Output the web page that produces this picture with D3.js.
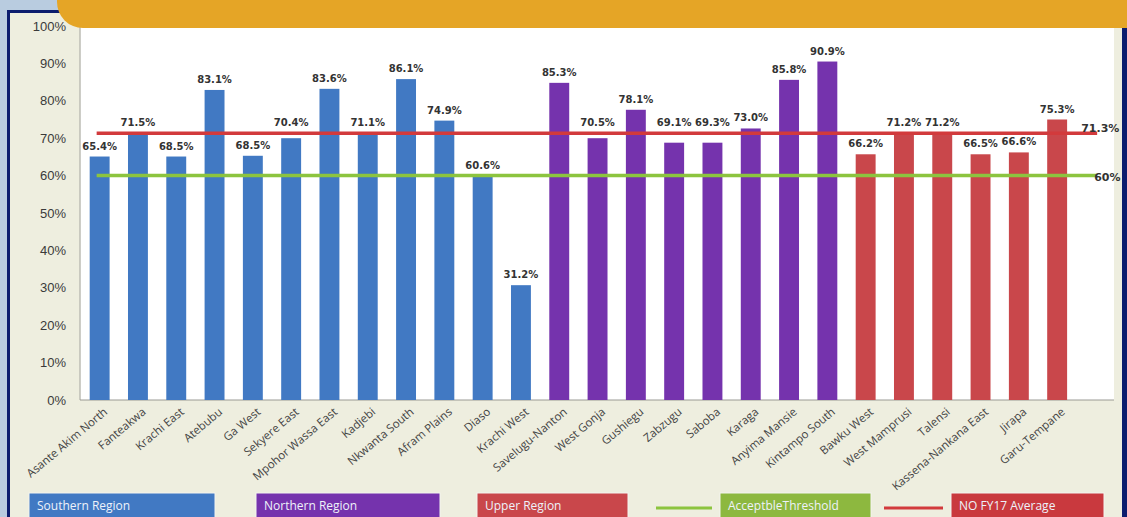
<!DOCTYPE html>
<html>
<head>
<meta charset="utf-8">
<script src="https://cdn.jsdelivr.net/npm/d3@7"></script>
<style>
  html, body { margin: 0; padding: 0; background: #b9cce0; overflow: hidden; }
  svg { display: block; }
</style>
</head>
<body>
<div id="chart"></div>
<script>
(function() {
  "use strict";

  var districts = ["Asante Akim North", "Fanteakwa", "Krachi East", "Atebubu", "Ga West",
    "Sekyere East", "Mpohor Wassa East", "Kadjebi", "Nkwanta South", "Afram Plains", "Diaso",
    "Krachi West", "Savelugu-Nanton", "West Gonja", "Gushiegu", "Zabzugu", "Saboba", "Karaga",
    "Anyima Mansie", "Kintampo South", "Bawku West", "West Mamprusi", "Talensi",
    "Kassena-Nankana East", "Jirapa", "Garu-Tempane"];
  var regions = ["S", "S", "S", "S", "S", "S", "S", "S", "S", "S", "S", "S",
    "N", "N", "N", "N", "N", "N", "N", "N",
    "U", "U", "U", "U", "U", "U"];
  // printed data labels
  var labelValues = [65.4, 71.5, 68.5, 83.1, 68.5, 70.4, 83.6, 71.1, 86.1, 74.9, 60.6, 31.2,
    85.3, 70.5, 78.1, 69.1, 69.3, 73.0, 85.8, 90.9, 66.2, 71.2, 71.2, 66.5, 66.6, 75.3];
  // bar heights as drawn in the picture (a few differ from their labels)
  var barValues = [65.1, 70.9, 65.1, 82.9, 65.3, 70.0, 83.2, 70.9, 85.8, 74.7, 59.7, 30.7,
    84.8, 70.0, 77.6, 68.8, 68.8, 72.6, 85.6, 90.5, 65.7, 71.3, 71.3, 65.7, 66.2, 75.0];
  var yTicks = [0, 10, 20, 30, 40, 50, 60, 70, 80, 90, 100];
  var averageValue = 71.3;
  var thresholdValue = 60;
  var legendNames = ["Southern Region", "Northern Region", "Upper Region", "AcceptbleThreshold", "NO FY17 Average"];

  var colors = { S: "#4179c3", N: "#7533ad", U: "#c9474b" };
  var W = 1127, H = 517;

  var svg = d3.select("#chart").append("svg")
    .attr("width", W)
    .attr("height", H);

  // slide frame
  svg.append("rect").attr("width", W).attr("height", H).attr("fill", "#b9cce0");
  svg.append("rect")
    .attr("x", 7).attr("y", 10).attr("width", W - 7).attr("height", H - 10)
    .attr("fill", "#0c1d6e");
  svg.append("rect")
    .attr("x", 10).attr("y", 13).attr("width", 1112).attr("height", H - 13)
    .attr("fill", "#eeeedf");

  var x = d3.scaleBand()
    .domain(districts)
    .range([80.5, 1076.3])
    .paddingInner(0.48)
    .paddingOuter(0.24);

  var y = d3.scaleLinear()
    .domain([0, 100])
    .range([400, 26]);

  // plot area
  svg.append("rect")
    .attr("x", 80).attr("y", 20).attr("width", 1034).attr("height", 380)
    .attr("fill", "#ffffff");
  svg.append("line")
    .attr("x1", 80).attr("x2", 80).attr("y1", 20).attr("y2", 400)
    .attr("stroke", "#bdbdb4").attr("stroke-width", 1.5);

  var yAxis = svg.append("g")
    .attr("transform", "translate(80,0)")
    .call(d3.axisLeft(y).tickValues(yTicks).tickSize(0).tickPadding(14).tickFormat(function(d) { return d + "%"; }));
  yAxis.select(".domain").remove();
  yAxis.selectAll("text")
    .attr("font-family", "Liberation Sans, Arial, sans-serif")
    .attr("font-size", 13)
    .attr("fill", "#3a3a3a");

  svg.append("line")
    .attr("x1", 80).attr("x2", 1114).attr("y1", y(0)).attr("y2", y(0))
    .attr("stroke", "#9a9a94").attr("stroke-width", 1);

  // bars
  svg.append("g").selectAll("rect")
    .data(districts)
    .join("rect")
    .attr("x", function(d) { return x(d); })
    .attr("y", function(d, i) { return y(barValues[i]); })
    .attr("width", x.bandwidth())
    .attr("height", function(d, i) { return y(0) - y(barValues[i]); })
    .attr("fill", function(d, i) { return colors[regions[i]]; });

  // average and threshold lines
  var lineX1 = x(districts[0]) + x.bandwidth() / 2 - 3;
  var lineX2 = x(districts[districts.length - 1]) + x.bandwidth() / 2 + 40;
  svg.append("line")
    .attr("x1", lineX1).attr("x2", lineX2)
    .attr("y1", y(thresholdValue)).attr("y2", y(thresholdValue))
    .attr("stroke", "#8cc43f").attr("stroke-width", 3.5);
  svg.append("line")
    .attr("x1", lineX1).attr("x2", lineX2)
    .attr("y1", y(averageValue)).attr("y2", y(averageValue))
    .attr("stroke", "#d23a3c").attr("stroke-width", 3.5);

  // data labels, lifted above a line when they would sit on it
  function labelY(i) {
    var base = y(barValues[i]) - 7;
    [y(averageValue), y(thresholdValue)].forEach(function(ly) {
      if (base > ly - 7 && base < ly + 10) base = ly - 7;
    });
    return base;
  }
  svg.append("g").selectAll("text")
    .data(districts)
    .join("text")
    .attr("x", function(d) { return x(d) + x.bandwidth() / 2; })
    .attr("y", function(d, i) { return labelY(i); })
    .attr("text-anchor", "middle")
    .attr("font-family", "DejaVu Sans, sans-serif")
    .attr("font-weight", "bold")
    .attr("font-size", 10)
    .attr("fill", "#333333")
    .text(function(d, i) { return labelValues[i].toFixed(1) + "%"; });

  svg.append("text")
    .attr("x", lineX2 - 16).attr("y", y(averageValue) - 1)
    .attr("font-family", "DejaVu Sans, sans-serif")
    .attr("font-weight", "bold")
    .attr("font-size", 11)
    .attr("fill", "#333333")
    .text(averageValue + "%");
  svg.append("text")
    .attr("x", lineX2 - 3).attr("y", y(thresholdValue) + 5)
    .attr("font-family", "DejaVu Sans, sans-serif")
    .attr("font-weight", "bold")
    .attr("font-size", 11)
    .attr("fill", "#333333")
    .text(thresholdValue + "%");

  // category labels
  svg.append("g").selectAll("text")
    .data(districts)
    .join("text")
    .attr("transform", function(d) {
      return "translate(" + (x(d) + x.bandwidth() / 2 + 6) + ",410) rotate(-40)";
    })
    .attr("dy", "0.35em")
    .attr("text-anchor", "end")
    .attr("font-family", "Open Sans, sans-serif")
    .attr("font-size", 11.5)
    .attr("fill", "#444444")
    .text(function(d) { return d; });

  // legend
  var boxes = [
    { x: 29, w: 186, fill: colors.S },
    { x: 256, w: 184, fill: colors.N },
    { x: 477, w: 151, fill: colors.U },
    { x: 720, w: 151, fill: "#8db83f" },
    { x: 951, w: 153, fill: "#c9393e" }
  ];
  var legend = svg.append("g");
  legend.selectAll("rect")
    .data(boxes)
    .join("rect")
    .attr("x", function(d) { return d.x; })
    .attr("y", 493)
    .attr("width", function(d) { return d.w; })
    .attr("height", 26)
    .attr("fill", function(d) { return d.fill; })
    .attr("stroke", "#f4f4f0")
    .attr("stroke-width", 1);
  legend.selectAll("text")
    .data(boxes)
    .join("text")
    .attr("x", function(d) { return d.x + 8; })
    .attr("y", 510)
    .attr("font-family", "Open Sans, sans-serif")
    .attr("font-size", 12)
    .attr("fill", "#eef2fa")
    .text(function(d, i) { return legendNames[i]; });
  legend.append("line")
    .attr("x1", 656).attr("x2", 712).attr("y1", 508).attr("y2", 508)
    .attr("stroke", "#8cc43f").attr("stroke-width", 3);
  legend.append("line")
    .attr("x1", 884).attr("x2", 943).attr("y1", 508).attr("y2", 508)
    .attr("stroke", "#d23a3c").attr("stroke-width", 3);

  // right edge border over the overflowing labels
  svg.append("rect")
    .attr("x", 1122).attr("y", 10).attr("width", 5).attr("height", H - 10)
    .attr("fill", "#0c1d6e");

  // orange banner with rounded lower-left corner
  var r = 26;
  svg.append("path")
    .attr("d", "M57,0 H" + W + " V28 H" + (57 + r) + " A" + r + "," + r + " 0 0 1 57," + (28 - r) + " Z")
    .attr("fill", "#e5a526");
})();
</script>
</body>
</html>
